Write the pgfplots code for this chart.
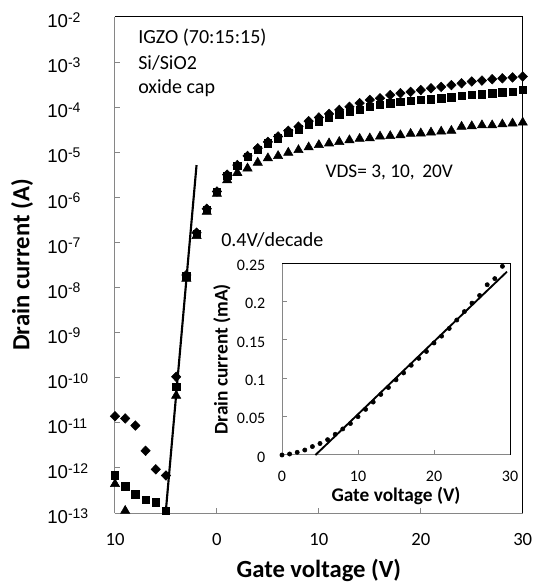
\documentclass[border=0pt]{standalone}
\usepackage{fontspec}
\setmainfont{Carlito}
\newfontfamily\arialfont{Liberation Sans}
\usepackage{pgfplots}
\pgfplotsset{compat=1.18}
\usetikzlibrary{calc}
\definecolor{axisgray}{RGB}{134,134,134}
\newcommand{\fs}[1]{\fontsize{#1}{#1}\selectfont}

% transfer curves, VDS = 20 V (diamonds), 10 V (squares), 3 V (triangles)
\pgfplotstableread{
x y
-10 1.4e-11
-9 1.25e-11
-8 8.7e-12
-7 2.4e-12
-6 9.3e-13
-5 6.8e-13
-4 1.05e-10
-3 1.9e-8
-2 1.65e-7
-1 5.6e-7
0 1.35e-6
1 3.2e-6
2 5.2e-6
3 8.3e-6
4 1.23e-5
5 1.7e-5
6 2.24e-5
7 3.0e-5
8 3.7e-5
9 4.9e-5
10 5.9e-5
11 7.1e-5
12 8.7e-5
13 1.02e-4
14 1.23e-4
15 1.45e-4
16 1.58e-4
17 1.86e-4
18 2.04e-4
19 2.19e-4
20 2.4e-4
21 2.63e-4
22 2.82e-4
23 3.09e-4
24 3.39e-4
25 3.72e-4
26 3.89e-4
27 4.17e-4
28 4.37e-4
29 4.57e-4
30 4.79e-4
}\vdsA
\pgfplotstableread{
x y
-10 6.9e-13
-9 3.9e-13
-8 2.6e-13
-7 2.0e-13
-6 1.74e-13
-5 1.12e-13
-4 6.3e-11
-3 1.78e-8
-2 1.58e-7
-1 5.4e-7
0 1.32e-6
1 3.0e-6
2 5.0e-6
3 7.9e-6
4 1.15e-5
5 1.58e-5
6 2.04e-5
7 2.7e-5
8 3.24e-5
9 4.17e-5
10 4.9e-5
11 5.75e-5
12 6.8e-5
13 7.8e-5
14 8.7e-5
15 1.02e-4
16 1.12e-4
17 1.23e-4
18 1.32e-4
19 1.38e-4
20 1.45e-4
21 1.51e-4
22 1.58e-4
23 1.66e-4
24 1.78e-4
25 1.86e-4
26 1.95e-4
27 2.04e-4
28 2.14e-4
29 2.19e-4
30 2.4e-4
}\vdsB
\pgfplotstableread{
x y
-10 4.4e-13
-9 1.12e-13
-4 4.0e-11
-3 1.58e-8
-2 1.4e-7
-1 4.8e-7
0 1.2e-6
1 2.4e-6
2 3.5e-6
3 4.4e-6
4 5.9e-6
5 7.4e-6
6 8.3e-6
7 9.8e-6
8 1.12e-5
9 1.29e-5
10 1.45e-5
11 1.58e-5
12 1.7e-5
13 1.86e-5
14 2.0e-5
15 2.04e-5
16 2.24e-5
17 2.29e-5
18 2.4e-5
19 2.57e-5
20 2.63e-5
21 2.75e-5
22 2.88e-5
23 3.0e-5
24 3.7e-5
25 3.8e-5
26 3.98e-5
27 3.98e-5
28 4.17e-5
29 4.37e-5
30 4.57e-5
}\vdsC
% linear inset, drain current in mA
\pgfplotstableread{
x y
0 0.0
1 0.0013
2 0.0035
3 0.0065
4 0.011
5 0.015
6 0.020
7 0.027
8 0.034
9 0.041
10 0.050
11 0.0595
12 0.069
13 0.079
14 0.088
15 0.098
16 0.107
17 0.117
18 0.126
19 0.135
20 0.146
21 0.155
22 0.165
23 0.176
24 0.187
25 0.198
26 0.208
27 0.222
28 0.230
29 0.246
}\linin

\begin{document}
\begin{tikzpicture}
\begin{axis}[
  name=main,
  scale only axis,
  width=305.8pt, height=372pt,
  xmin=-10, xmax=30,
  ymode=log, log basis y=10,
  ymin=1e-13, ymax=1e-2,
  xtick={-10,0,10,20,30},
  xticklabels={10,0,10,20,30},
  ytick={1e-13,1e-12,1e-11,1e-10,1e-9,1e-8,1e-7,1e-6,1e-5,1e-4,1e-3,1e-2},
  yminorticks=false,
  axis x line*=bottom, axis y line*=left,
  axis line style={draw=axisgray, line width=0.75pt, -},
  tick style={draw=axisgray, line width=0.75pt},
  tick align=inside,
  major tick length=4pt,
  xticklabel style={font=\fs{14}, yshift=-12pt},
  yticklabel={\pgfmathtruncatemacro\ee{round(\tick)}10\raisebox{4pt}{\fs{10.5}\ee}},
  yticklabel style={font=\arialfont\fs{14}, anchor=base west, inner xsep=0pt, xshift=-51pt, yshift=-8pt},
  xlabel={Gate voltage (V)},
  ylabel={Drain current (A)},
  xlabel style={font=\bfseries\fs{18.5}, inner sep=0pt, at={(axis description cs:0.5,-0.115)}, anchor=center},
  ylabel style={font=\bfseries\fs{18.5}, at={(axis description cs:-0.228,0.5)}, anchor=center},
  clip=false,
]
\draw[black, line width=0.75pt] (rel axis cs:0,1) -- (rel axis cs:1,1) -- (rel axis cs:1,0);
\addplot[only marks, mark=diamond*, mark size=3.6pt, mark options={xscale=1.3, fill=black}] table {\vdsA};
\addplot[only marks, mark=square*, mark size=2.75pt, mark options={fill=black}] table {\vdsB};
\addplot[only marks, mark=triangle*, mark size=4pt, mark options={fill=black}] table {\vdsC};
\addplot[black, line width=1.6pt] coordinates {(-5.03,1e-13) (-2.0,5.2e-6)};
\node[anchor=west, font=\fs{15}, inner sep=0pt] at (axis cs:-7.74,3.42e-3) {IGZO (70:15:15)};
\node[anchor=west, font=\fs{15}, inner sep=0pt] at (axis cs:-7.74,9.5e-4) {Si/SiO2};
\node[anchor=west, font=\fs{15}, inner sep=0pt] at (axis cs:-7.74,2.7e-4) {oxide cap};
\node[anchor=center, font=\fs{14.5}, inner sep=0pt] at (axis cs:16.9,3.63e-6) {VDS= 3, 10,\, 20V};
\node[anchor=west, font=\fs{15}, inner sep=0pt] at (axis cs:0.4,1.12e-7) {0.4V/decade};
\end{axis}

\begin{axis}[
  at={(main.south west)}, anchor=south west,
  xshift=125.25pt, yshift=43.5pt,
  scale only axis,
  width=171pt, height=143.8pt,
  xmin=0, xmax=30, ymin=0, ymax=0.25,
  xtick={0,10,20,30},
  xticklabels={0,10,20,30},
  ytick={0,0.05,0.1,0.15,0.2,0.25},
  yticklabels={0,0.05,0.1,0.15,0.2,0.25},
  axis background/.style={fill=white},
  axis x line*=bottom, axis y line*=left,
  axis line style={draw=axisgray, line width=0.75pt, -},
  tick style={draw=axisgray, line width=0.75pt},
  tick align=inside,
  major tick length=4pt,
  xticklabel style={font=\fs{12}, inner ysep=1pt, yshift=-11pt},
  yticklabel style={font=\fs{12}, xshift=-9pt, yshift=-1.5pt},
  xlabel={Gate voltage (V)},
  ylabel={Drain current (mA)},
  xlabel style={font=\bfseries\fs{14.5}, inner sep=0pt, at={(axis description cs:0.5,-0.215)}, anchor=center},
  ylabel style={font=\bfseries\fs{14.5}, at={(axis description cs:-0.264,0.5)}, anchor=center},
  clip=false,
]
\draw[black, line width=0.75pt] (rel axis cs:0,1) -- (rel axis cs:1,1) -- (rel axis cs:1,0);
\addplot[only marks, mark=*, mark size=1.6pt, mark options={fill=black}] table {\linin};
\addplot[black, line width=1.4pt] coordinates {(4.4,0) (29.6,0.239)};
\end{axis}

\pgfresetboundingbox
\path ($(main.south west)+(-86.25pt,-53.25pt)$) rectangle ($(main.north east)+(9.2pt,12.75pt)$);
\end{tikzpicture}
\end{document}
